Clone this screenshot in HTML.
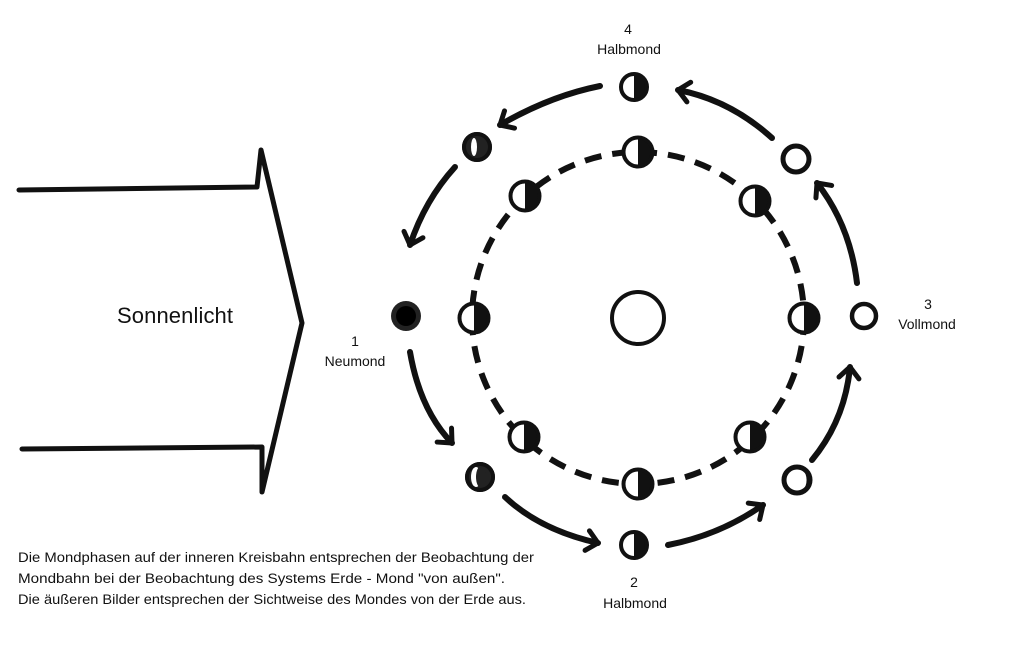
<!DOCTYPE html>
<html><head><meta charset="utf-8"><style>
html,body{margin:0;padding:0;background:#fff;}
svg{display:block;font-family:"Liberation Sans",sans-serif;}
</style></head><body>
<svg width="1024" height="659" viewBox="0 0 1024 659" xmlns="http://www.w3.org/2000/svg">
<defs>
<marker id="ah" markerWidth="24" markerHeight="26" refX="14" refY="13" orient="auto" markerUnits="userSpaceOnUse">
<path d="M3,3 L14,13 L3,23" fill="none" stroke="#111" stroke-width="5" stroke-linecap="round" stroke-linejoin="round"/>
</marker>
<clipPath id="rh"><rect x="0" y="-30" width="30" height="60"/></clipPath>
</defs>
<!-- Sun arrow -->
<path d="M19,190 L257,187 L261,150 L302,323 L262,492 L262,447 L22,449" fill="none" stroke="#111" stroke-width="5" stroke-linejoin="round" stroke-linecap="round"/>
<text x="117" y="323" font-size="22" fill="#111" textLength="116">Sonnenlicht</text>

<!-- dashed orbit -->
<circle cx="638" cy="318" r="166" fill="none" stroke="#111" stroke-width="6" stroke-dasharray="17 11"/>
<!-- Earth -->
<circle cx="638" cy="318" r="26" fill="#fff" stroke="#111" stroke-width="4"/>

<!-- inner moons -->
<g transform="translate(638,152)"><circle r="16" fill="#fff"/><circle r="16" fill="#111" clip-path="url(#rh)"/><circle r="14.5" fill="none" stroke="#111" stroke-width="4"/></g>
<g transform="translate(755,201)"><circle r="16" fill="#fff"/><circle r="16" fill="#111" clip-path="url(#rh)"/><circle r="14.5" fill="none" stroke="#111" stroke-width="4"/></g>
<g transform="translate(804,318)"><circle r="16" fill="#fff"/><circle r="16" fill="#111" clip-path="url(#rh)"/><circle r="14.5" fill="none" stroke="#111" stroke-width="4"/></g>
<g transform="translate(750,437)"><circle r="16" fill="#fff"/><circle r="16" fill="#111" clip-path="url(#rh)"/><circle r="14.5" fill="none" stroke="#111" stroke-width="4"/></g>
<g transform="translate(638,484)"><circle r="16" fill="#fff"/><circle r="16" fill="#111" clip-path="url(#rh)"/><circle r="14.5" fill="none" stroke="#111" stroke-width="4"/></g>
<g transform="translate(524,437)"><circle r="16" fill="#fff"/><circle r="16" fill="#111" clip-path="url(#rh)"/><circle r="14.5" fill="none" stroke="#111" stroke-width="4"/></g>
<g transform="translate(474,318)"><circle r="16" fill="#fff"/><circle r="16" fill="#111" clip-path="url(#rh)"/><circle r="14.5" fill="none" stroke="#111" stroke-width="4"/></g>
<g transform="translate(525,196)"><circle r="16" fill="#fff"/><circle r="16" fill="#111" clip-path="url(#rh)"/><circle r="14.5" fill="none" stroke="#111" stroke-width="4"/></g>

<!-- outer moons -->
<g transform="translate(634,87)"><circle r="14" fill="#fff"/><circle r="14" fill="#111" clip-path="url(#rh)"/><circle r="13" fill="none" stroke="#111" stroke-width="4"/></g>
<g transform="translate(477,147)"><circle r="15" fill="#222"/><ellipse cx="-3" cy="0" rx="3" ry="9" fill="#fff"/><circle r="13" fill="none" stroke="#111" stroke-width="4"/></g>
<g transform="translate(406,316)"><circle r="15" fill="#222"/><circle r="10" fill="#000"/></g>
<g transform="translate(480,477)"><circle r="15" fill="#222"/><ellipse cx="-4" cy="0" rx="5" ry="10" fill="#fff"/><ellipse cx="1" cy="0" rx="5" ry="11" fill="#222"/><circle r="13" fill="none" stroke="#111" stroke-width="4"/></g>
<g transform="translate(634,545)"><circle r="14" fill="#fff"/><circle r="14" fill="#111" clip-path="url(#rh)"/><circle r="13" fill="none" stroke="#111" stroke-width="4"/></g>
<g transform="translate(797,480)"><circle r="13" fill="#fff" stroke="#111" stroke-width="5"/><path d="M6,-10 A12,12 0 0 1 6,10 A8,12 0 0 0 6,-10Z" fill="#111"/></g>
<circle cx="864" cy="316" r="12" fill="#fff" stroke="#111" stroke-width="4.5"/>
<circle cx="796" cy="159" r="13" fill="#fff" stroke="#111" stroke-width="5"/>

<!-- curved arrows -->
<g fill="none" stroke="#111" stroke-width="6" stroke-linecap="round" marker-end="url(#ah)">
<path d="M600,86 Q550,96 500,125"/>
<path d="M455,167 Q425,200 410,245"/>
<path d="M410,352 Q420,410 452,443"/>
<path d="M505,497 Q540,530 598,543"/>
<path d="M668,545 Q720,535 763,505"/>
<path d="M812,460 Q845,420 850,367"/>
<path d="M857,283 Q850,225 817,183"/>
<path d="M772,138 Q730,100 678,90"/>
</g>

<!-- labels -->
<g font-size="14" fill="#111" text-anchor="middle">
<text x="628" y="34">4</text>
<text x="629" y="54">Halbmond</text>
<text x="355" y="346">1</text>
<text x="355" y="366">Neumond</text>
<text x="928" y="309">3</text>
<text x="927" y="329">Vollmond</text>
<text x="634" y="587">2</text>
<text x="635" y="608">Halbmond</text>
</g>
<g font-size="13.5" fill="#111">
<text x="18" y="562" textLength="516" lengthAdjust="spacingAndGlyphs">Die Mondphasen auf der inneren Kreisbahn entsprechen der Beobachtung der</text>
<text x="18" y="583" textLength="487" lengthAdjust="spacingAndGlyphs">Mondbahn bei der Beobachtung des Systems Erde - Mond "von außen".</text>
<text x="18" y="604" textLength="508" lengthAdjust="spacingAndGlyphs">Die äußeren Bilder entsprechen der Sichtweise des Mondes von der Erde aus.</text>
</g>
</svg>
</body></html>
